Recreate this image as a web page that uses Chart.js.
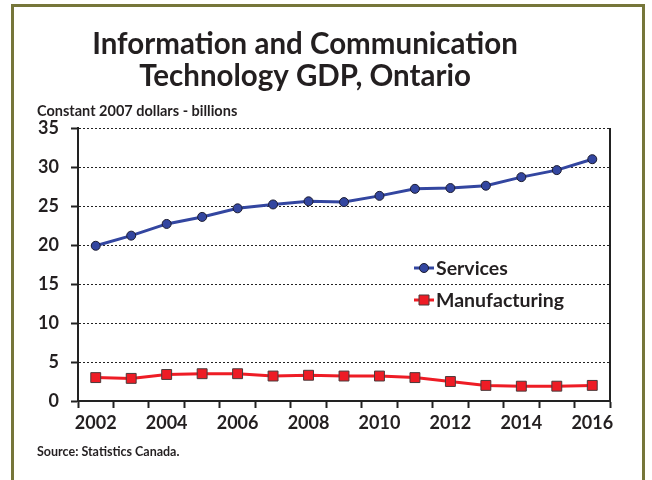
<!DOCTYPE html>
<html>
<head>
<meta charset="utf-8">
<script src="https://cdn.jsdelivr.net/npm/chart.js@4"></script>
<style>
  html, body { margin: 0; padding: 0; background: #fff; overflow: hidden; }
  #wrap { position: relative; width: 652px; height: 480px; }
  #frame {
    position: absolute; left: 11px; top: 4px; width: 634px; height: 500px;
    border: 3px solid #76763a; box-sizing: border-box;
  }
  #c { position: absolute; left: 0; top: 0; }
</style>
</head>
<body>
<div id="wrap">
  <div id="frame"></div>
  <canvas id="c" width="652" height="480"></canvas>
</div>
<script>
const years = ['2002', '2003', '2004', '2005', '2006', '2007', '2008', '2009',
  '2010', '2011', '2012', '2013', '2014', '2015', '2016'];
const services = [19.9, 21.2, 22.7, 23.6, 24.7, 25.2, 25.6, 25.5, 26.3, 27.2, 27.3, 27.6, 28.7, 29.6, 31.0];
const manufacturing = [3.0, 2.9, 3.4, 3.5, 3.5, 3.2, 3.3, 3.2, 3.2, 3.0, 2.5, 2.0, 1.9, 1.9, 2.0];
const yTicks = [0, 5, 10, 15, 20, 25, 30, 35];

const FONT = 'Lato, "Open Sans", sans-serif';

// subtitle, source note, solid axis lines, right frame of the plot and the legend inside the plot
const extras = {
  id: 'extras',
  afterDraw(chart) {
    const ctx = chart.ctx;
    const area = chart.chartArea;
    ctx.save();

    ctx.setLineDash([]);
    ctx.strokeStyle = '#222';
    ctx.lineWidth = 2;
    ctx.beginPath();
    ctx.moveTo(area.right, area.top);
    ctx.lineTo(area.right, area.bottom);
    ctx.moveTo(area.left, area.top);
    ctx.lineTo(area.left, area.bottom);
    ctx.stroke();

    ctx.fillStyle = '#231f20';
    ctx.textBaseline = 'alphabetic';
    ctx.textAlign = 'left';
    ctx.font = 'bold 14.5px ' + FONT;
    ctx.fillText('Constant 2007 dollars - billions', 37, 116);
    ctx.font = 'bold 12.5px ' + FONT;
    ctx.fillText('Source: Statistics Canada.', 37, 456);

    // legend
    const rows = [268, 300];
    chart.data.datasets.forEach((ds, i) => {
      const y = rows[i];
      ctx.strokeStyle = ds.borderColor;
      ctx.lineWidth = 3;
      ctx.beginPath();
      ctx.moveTo(414, y);
      ctx.lineTo(434, y);
      ctx.stroke();
      ctx.fillStyle = ds.pointBackgroundColor;
      ctx.strokeStyle = ds.pointBorderColor;
      ctx.lineWidth = 1;
      ctx.beginPath();
      if (ds.pointStyle === 'rect') {
        ctx.rect(419, y - 5, 10, 10);
      } else {
        ctx.arc(424, y, ds.pointRadius, 0, Math.PI * 2);
      }
      ctx.fill();
      ctx.stroke();
      ctx.fillStyle = '#231f20';
      ctx.font = 'bold 19.5px ' + FONT;
      ctx.textBaseline = 'middle';
      ctx.fillText(ds.label, 436, y + 1);
    });
    ctx.restore();
  }
};

new Chart(document.getElementById('c'), {
  type: 'line',
  data: {
    labels: years,
    datasets: [
      {
        label: 'Services',
        data: services,
        borderColor: '#3346a0',
        borderWidth: 3,
        pointStyle: 'circle',
        pointRadius: 4.5,
        pointBackgroundColor: '#3346a0',
        pointBorderColor: '#1c1c30',
        pointBorderWidth: 1,
        tension: 0,
      },
      {
        label: 'Manufacturing',
        data: manufacturing,
        borderColor: '#ee1c25',
        borderWidth: 3,
        pointStyle: 'rect',
        pointRadius: 7,
        pointBackgroundColor: '#ee1c25',
        pointBorderColor: '#4a3a3a',
        pointBorderWidth: 1,
        tension: 0,
      },
    ],
  },
  options: {
    responsive: false,
    animation: false,
    devicePixelRatio: 1,
    layout: { padding: { left: 0, right: 42, top: 0, bottom: 51 } },
    plugins: {
      legend: { display: false },
      tooltip: { enabled: false },
      title: {
        display: true,
        text: ['Information and Communication', 'Technology GDP, Ontario'],
        color: '#231f20',
        font: { family: FONT, size: 29.5, weight: 'bold', lineHeight: 1.1 },
        padding: { top: 27.8, bottom: 35.3 },
      },
    },
    scales: {
      x: {
        offset: true,
        afterFit(scale) { scale.height = 28; },
        grid: {
          offset: true,
          drawOnChartArea: false,
          drawTicks: true,
          tickLength: 7,
          tickColor: '#222',
          tickWidth: 2,
        },
        border: { display: true, color: '#222', width: 2 },
        ticks: {
          autoSkip: false,
          maxRotation: 0,
          padding: 4,
          color: '#231f20',
          font: { family: FONT, size: 18, weight: 'bold' },
          callback(val, i) { return i % 2 === 0 ? this.getLabelForValue(val) : ''; },
        },
      },
      y: {
        min: 0,
        max: 35,
        afterFit(scale) { scale.width = 78; },
        afterBuildTicks(scale) { scale.ticks = yTicks.map(v => ({ value: v })); },
        grid: {
          color(ctx) { return ctx.tick && ctx.tick.value === 0 ? 'rgba(0,0,0,0)' : '#222'; },
          lineWidth: 1,
          drawTicks: true,
          tickLength: 7,
          tickColor: '#222',
          tickWidth: 2,
          tickBorderDash: [20, 0],
        },
        border: { display: true, color: '#222', width: 2, dash: [2, 2] },
        ticks: {
          padding: 12,
          color: '#231f20',
          font: { family: FONT, size: 18, weight: 'bold' },
        },
      },
    },
  },
  plugins: [extras],
});
</script>
</body>
</html>
